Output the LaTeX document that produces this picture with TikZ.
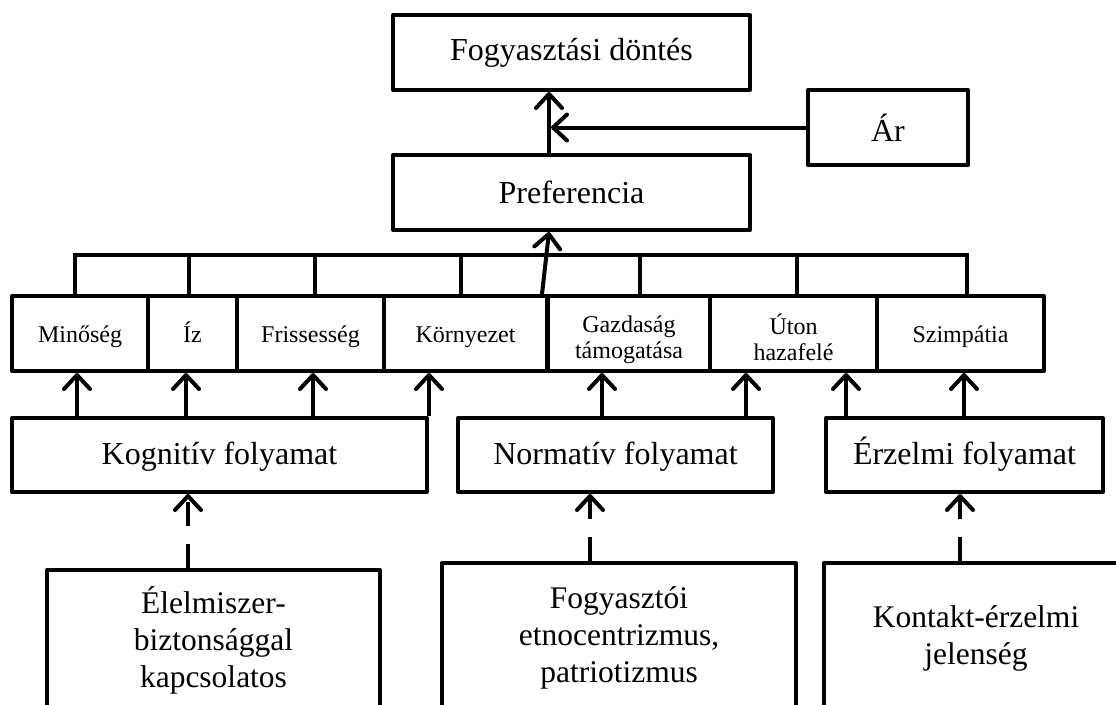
\documentclass[tikz,border=0pt]{standalone}
\usepackage{fontspec}
\setmainfont{Liberation Serif}
\usetikzlibrary{arrows.meta}
\begin{document}
\begin{tikzpicture}[x=1pt,y=-1pt,
  box/.style={draw, line width=4pt, rectangle, inner sep=0pt, align=center, line join=round},
  big/.style={font=\fontsize{32}{37}\selectfont},
  bottomtext/.style={font=\fontsize{31.5}{37}\selectfont},
  small/.style={font=\fontsize{24}{26}\selectfont},
  oneline/.style={text height=22pt, text depth=5pt},
  procline/.style={text height=25pt, text depth=7pt},
  link/.style={line width=4pt, line cap=rect},
  arr/.style={line width=4pt, -{Straight Barb[length=14pt,width=26pt,line join=round,line cap=round]}},
  dasharr/.style={arr, dash pattern=on 24pt off 18pt}]
\useasboundingbox (0,0) rectangle (1116,704);
\clip (0,0) rectangle (1116,704);

% decision level
\node[box,big,minimum width=357pt,minimum height=75pt] (decision) at (571.5,52.5) {Fogyasztási döntés};
\node[box,big,minimum width=357pt,minimum height=75pt] (pref) at (571.5,192.5) {Preferencia};
\node[box,big,minimum width=160pt,minimum height=75pt] (price) at (888,127.5) {Ár};

\coordinate (pa) at (549,0);
\coordinate (pb) at (551,0);
\draw[arr] (pref.north -| pa) -- (decision.south -| pa);
\draw[arr] (price.west) -- (pb |- price.west);

% attributes
\begin{scope}[every node/.style={box,small,minimum height=75pt}]
\node[oneline,minimum width=136pt] (minoseg) at (80,333.5) {Minőség};
\node[oneline,minimum width=89pt] (iz) at (192.5,333.5) {Íz};
\node[oneline,minimum width=147pt] (friss) at (310.5,333.5) {Frissesség};
\node[oneline,minimum width=163pt] (korny) at (465.5,333.5) {Környezet};
\node[minimum width=162pt] (gazd) at (629,333.5) {};
\node[minimum width=167pt] (uton) at (793.5,333.5) {};
\node[oneline,minimum width=167pt] (szimp) at (960.5,333.5) {Szimpátia};
\end{scope}
\node[small, align=center, anchor=north, inner sep=0pt] (utontext) at (793.5,314) {Úton\\hazafelé};
\begin{scope}
\clip ([yshift=-10pt]gazd.south west) rectangle (gazd.north east);
\node[small, align=center, anchor=north, inner sep=0pt] (gazdtext) at (629,316) {Gazdaság\\támogatása};
\end{scope}

% bus linking the attributes to the preference
\coordinate (d1) at (75,255);
\coordinate (d2) at (189,255);
\coordinate (d3) at (315,255);
\coordinate (d4) at (461,255);
\coordinate (d5) at (640,255);
\coordinate (d6) at (797,255);
\coordinate (d7) at (967,255);
\draw[line width=4pt] (minoseg.north -| d1) -- (d1) -- (d7) -- (szimp.north -| d7);
\draw[link] (iz.north -| d2) -- (d2);
\draw[link] (friss.north -| d3) -- (d3);
\draw[link] (korny.north -| d4) -- (d4);
\draw[link] (gazd.north -| d5) -- (d5);
\draw[link] (uton.north -| d6) -- (d6);
\coordinate (sl) at (542,0);
\draw[arr] (korny.north -| sl) -- (pref.south -| pa);

% processes
\node[box,big,procline,minimum width=415pt,minimum height=74pt] (kog) at (219.5,455) {Kognitív folyamat};
\node[box,big,procline,minimum width=315pt,minimum height=74pt] (norm) at (615.5,455) {Normatív folyamat};
\node[box,big,procline,minimum width=277pt,minimum height=74pt] (erz) at (964.5,455) {Érzelmi folyamat};

\coordinate (k1) at (77,0);
\coordinate (k2) at (186,0);
\coordinate (k3) at (313,0);
\coordinate (n1) at (602,0);
\coordinate (n2) at (746,0);
\coordinate (e1) at (846,0);
\coordinate (e2) at (964,0);
\draw[arr] (kog.north -| k1) -- (minoseg.south -| k1);
\draw[arr] (kog.north -| k2) -- (iz.south -| k2);
\draw[arr] (kog.north -| k3) -- (friss.south -| k3);
\draw[arr] (kog.north east) -- (korny.south -| kog.north east);
\draw[arr] (norm.north -| n1) -- (gazd.south -| n1);
\draw[arr] (norm.north -| n2) -- (uton.south -| n2);
\draw[arr] (erz.north -| e1) -- (uton.south -| e1);
\draw[arr] (erz.north -| e2) -- (szimp.south -| e2);

% background factors
\node[box,bottomtext,minimum width=333pt,minimum height=140pt] (food) at (213.5,640) {Élelmiszer-\\biztonsággal\\kapcsolatos};
\node[box,bottomtext,minimum width=354pt,minimum height=150pt] (ethno) at (619,638) {Fogyasztói\\etnocentrizmus,\\patriotizmus};
\node[box,bottomtext,minimum width=304pt,minimum height=150pt] (contact) at (976,638) {Kontakt-érzelmi\\jelenség};

\coordinate (f1) at (188,0);
\coordinate (f2) at (590,0);
\coordinate (f3) at (960,0);
\draw[dasharr] (food.north -| f1) -- (kog.south -| f1);
\draw[dasharr] (ethno.north -| f2) -- (norm.south -| f2);
\draw[dasharr] (contact.north -| f3) -- (erz.south -| f3);
\end{tikzpicture}
\end{document}
